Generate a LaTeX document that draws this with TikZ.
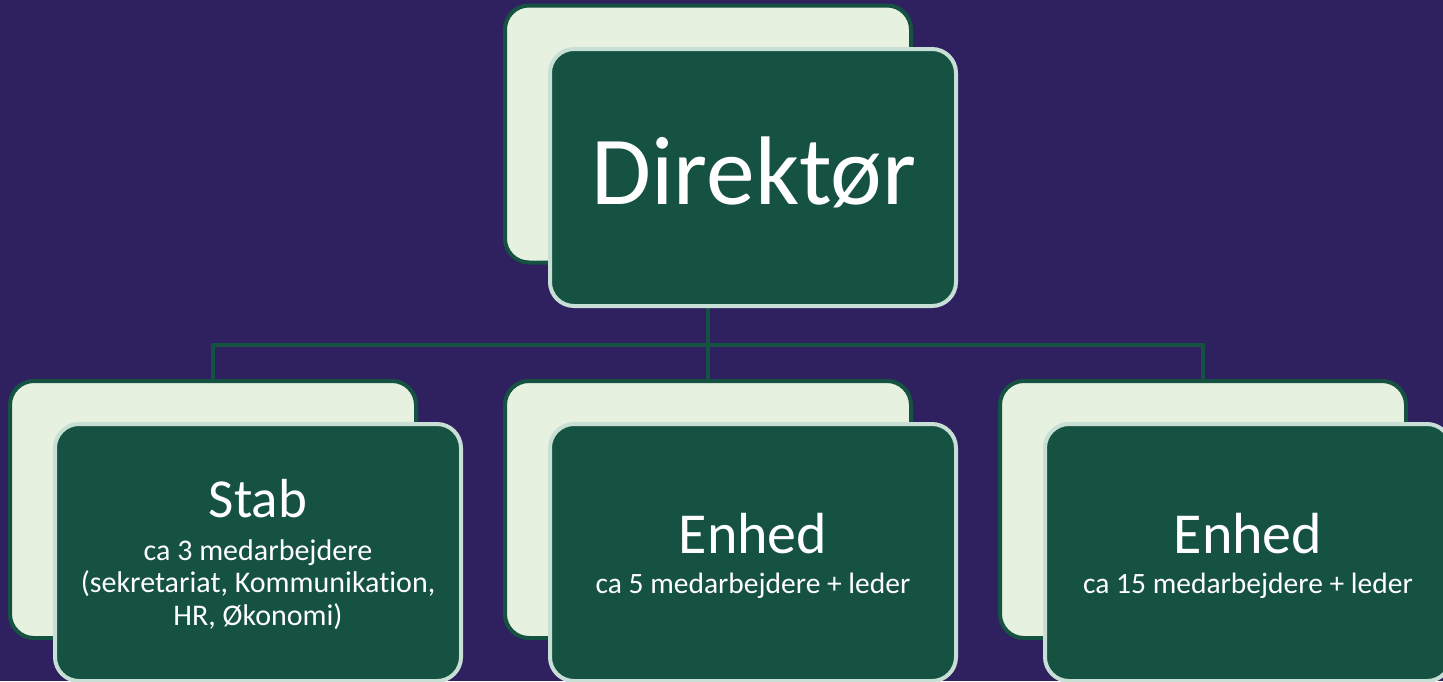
\documentclass[tikz,border=0pt]{standalone}
\usepackage{fontspec}
\setmainfont[Ligatures=NoCommon]{Carlito}
\usetikzlibrary{backgrounds}
\definecolor{bgpurple}{HTML}{2F2160}
\definecolor{darkgreen}{HTML}{155241}
\definecolor{lightfill}{HTML}{E6F2DF}
\definecolor{lightborder}{HTML}{C8DFD5}
\begin{document}
\begin{tikzpicture}[x=1pt,y=-1pt,
  backbox/.style={draw=darkgreen,fill=lightfill,line width=4pt,rounded corners=24pt,
    minimum width=406pt,minimum height=257pt,inner sep=0pt},
  frontbox/.style={draw=lightborder,fill=darkgreen,line width=4pt,rounded corners=24pt,
    minimum width=406pt,minimum height=257pt,inner sep=0pt},
  conn/.style={draw=darkgreen,line width=4pt},
  txt/.style={text=white,anchor=base,inner sep=0pt,align=center}]
\useasboundingbox (0,0) rectangle (1443,681);
% boxes
\node[backbox] (topback) at (708,134) {};
\node[frontbox] (topfront) at (753,177.5) {};
\node[backbox] (stabback) at (213,509.5) {};
\node[frontbox] (stabfront) at (258,552.5) {};
\node[backbox] (enhAback) at (708,509.5) {};
\node[frontbox] (enhAfront) at (753,552.5) {};
\node[backbox] (enhBback) at (1203,509.5) {};
\node[frontbox] (enhBfront) at (1248,552.5) {};
% connectors
\begin{scope}[on background layer]
\fill[bgpurple] (0,0) rectangle (1443,681);
\coordinate (bus) at (708,345);
\draw[conn] (topback.center) -- (bus);
\draw[conn] (stabback.center) |- (bus) -| (enhBback.center);
\draw[conn] (bus) -- (enhAback.center);
\end{scope}
% texts
\node[txt,font=\fontsize{97.5}{100}\selectfont] (tdir) at (754,204) {Direktør};
\node[txt,font=\fontsize{55}{58}\selectfont] (tstab) at (258,517) {Stab};
\node[txt,font=\fontsize{30}{32.5}\selectfont] (tstabsub) at (258,625)
  {ca 3 medarbejdere\\(sekretariat, Kommunikation,\\HR, Økonomi)};
\node[txt,font=\fontsize{58}{62}\selectfont] (tenhA) at (753,553) {Enhed};
\node[txt,font=\fontsize{29.5}{32}\selectfont] (tenhAsub) at (753,593) {ca 5 medarbejdere + leder};
\node[txt,font=\fontsize{58}{62}\selectfont] (tenhB) at (1248,553) {Enhed};
\node[txt,font=\fontsize{29.5}{32}\selectfont] (tenhBsub) at (1248,593) {ca 15 medarbejdere + leder};
\end{tikzpicture}
\end{document}
